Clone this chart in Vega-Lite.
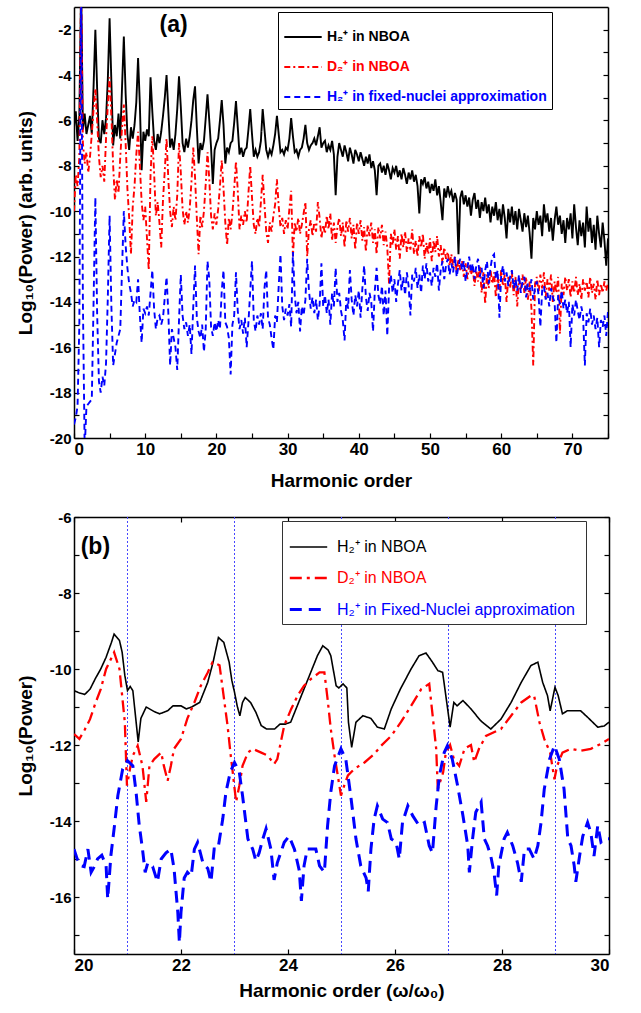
{
"$schema": "https://vega.github.io/schema/vega-lite/v6.json",
"padding": {"left": 16, "top": 7, "right": 5, "bottom": 5},
"spacing": 20,
"config": {
 "view": {"stroke": null},
 "axis": {"grid": false, "domainColor": "black", "domainWidth": 1.5, "tickColor": "black", "tickWidth": 1.2, "labelFont": "Liberation Sans", "labelFontWeight": "bold", "labelColor": "black", "titleFont": "Liberation Sans", "titleFontWeight": "bold", "titleColor": "black", "titleFontSize": 19},
 "legend": {"labelFont": "Liberation Sans"}
},
"datasets": {
 "a": [
{"h":0,"k":-6.3,"d":-10.0,"f":-19.4},{"h":0.25,"k":-5.6,"d":-8.4,"f":-19.1},{"h":0.5,"k":-6.9,"d":-8.9,"f":-18.6},{"h":0.75,"k":-5.8,"d":-7.6,"f":-15.0},
{"h":1,"k":0,"d":0,"f":0},{"h":1.25,"k":-6.4,"d":-7.0,"f":-14.0},{"h":1.5,"k":-5.7,"d":-7.9,"f":-20.5},{"h":1.75,"k":-6.6,"d":-7.4,"f":-18.6},
{"h":2,"k":-6.2,"d":-8.3,"f":-18.5},{"h":2.25,"k":-5.8,"d":-7.6,"f":-18.4},{"h":2.5,"k":-6.6,"d":-6.6,"f":-18.3},{"h":2.75,"k":-4.5,"d":-5.5,"f":-14.0},
{"h":3,"k":-2.0,"d":-4.6,"f":-9.4},{"h":3.25,"k":-4.6,"d":-6.0,"f":-14.5},{"h":3.5,"k":-6.8,"d":-7.6,"f":-17.5},{"h":3.75,"k":-7.0,"d":-8.5,"f":-18.0},
{"h":4,"k":-6.0,"d":-8.0,"f":-17.3},{"h":4.25,"k":-6.6,"d":-8.7,"f":-17.7},{"h":4.5,"k":-5.9,"d":-6.8,"f":-16.7},{"h":4.75,"k":-4.2,"d":-5.3,"f":-13.8},
{"h":5,"k":-1.5,"d":-4.1,"f":-10.2},{"h":5.25,"k":-4.3,"d":-5.8,"f":-14.2},{"h":5.5,"k":-7.1,"d":-8.0,"f":-16.8},{"h":5.75,"k":-6.2,"d":-9.5,"f":-16.3},
{"h":6,"k":-6.7,"d":-8.6,"f":-15.8},{"h":6.25,"k":-5.7,"d":-9.2,"f":-15.5},{"h":6.5,"k":-6.8,"d":-7.6,"f":-15.2},{"h":6.75,"k":-4.5,"d":-6.3,"f":-12.5},
{"h":7,"k":-2.3,"d":-5.3,"f":-10.0},{"h":7.25,"k":-4.8,"d":-7.0,"f":-11.5},{"h":7.5,"k":-6.6,"d":-9.0,"f":-12.5},{"h":7.75,"k":-7.3,"d":-10.3,"f":-13.2},
{"h":8,"k":-6.3,"d":-11.9,"f":-13.6},{"h":8.25,"k":-6.8,"d":-9.8,"f":-14.2},{"h":8.5,"k":-6.2,"d":-8.9,"f":-13.9},{"h":8.75,"k":-5.2,"d":-7.5,"f":-14.0},
{"h":9,"k":-3.25,"d":-6.5,"f":-13.0},{"h":9.25,"k":-5.3,"d":-8.0,"f":-14.6},{"h":9.5,"k":-8.2,"d":-9.6,"f":-15.8},{"h":9.75,"k":-6.5,"d":-10.4,"f":-14.3},
{"h":10,"k":-6.9,"d":-9.8,"f":-14.5},{"h":10.25,"k":-6.4,"d":-11.2,"f":-14.2},{"h":10.5,"k":-6.7,"d":-12.6,"f":-14.6},{"h":10.75,"k":-4.1,"d":-8.4,"f":-13.6},
{"h":11,"k":-5.6,"d":-6.7,"f":-12.6},{"h":11.25,"k":-6.9,"d":-8.3,"f":-14.3},{"h":11.5,"k":-7.3,"d":-10.2,"f":-15.2},{"h":11.75,"k":-6.6,"d":-9.6,"f":-14.7},
{"h":12,"k":-7.0,"d":-10.5,"f":-14.6},{"h":12.25,"k":-6.5,"d":-11.6,"f":-15.0},{"h":12.5,"k":-5.8,"d":-9.5,"f":-14.7},{"h":12.75,"k":-5.0,"d":-8.2,"f":-13.8},
{"h":13,"k":-4.0,"d":-6.8,"f":-12.9},{"h":13.25,"k":-5.6,"d":-8.6,"f":-14.5},{"h":13.5,"k":-7.2,"d":-10.0,"f":-16.8},{"h":13.75,"k":-6.8,"d":-10.7,"f":-15.2},
{"h":14,"k":-7.3,"d":-9.8,"f":-15.6},{"h":14.25,"k":-6.6,"d":-10.4,"f":-16.0},{"h":14.5,"k":-5.5,"d":-9.3,"f":-17.0},{"h":14.75,"k":-4.05,"d":-7.0,"f":-14.8},
{"h":15,"k":-5.4,"d":-8.3,"f":-12.8},{"h":15.25,"k":-7.0,"d":-9.9,"f":-14.6},{"h":15.5,"k":-7.4,"d":-10.6,"f":-15.2},{"h":15.75,"k":-6.8,"d":-10.0,"f":-14.9},
{"h":16,"k":-7.2,"d":-10.5,"f":-15.5},{"h":16.25,"k":-6.7,"d":-9.9,"f":-15.0},{"h":16.5,"k":-6.0,"d":-8.7,"f":-16.3},{"h":16.75,"k":-5.1,"d":-7.2,"f":-14.2},
{"h":17,"k":-4.5,"d":-8.5,"f":-12.4},{"h":17.25,"k":-6.3,"d":-10.3,"f":-14.7},{"h":17.5,"k":-7.9,"d":-11.9,"f":-15.3},{"h":17.75,"k":-7.0,"d":-10.2,"f":-15.6},
{"h":18,"k":-7.3,"d":-10.7,"f":-15.0},{"h":18.25,"k":-6.9,"d":-10.0,"f":-16.2},{"h":18.5,"k":-5.9,"d":-8.8,"f":-15.2},{"h":18.75,"k":-4.85,"d":-7.4,"f":-12.2},
{"h":19,"k":-6.0,"d":-8.6,"f":-13.0},{"h":19.25,"k":-7.2,"d":-10.2,"f":-15.1},{"h":19.5,"k":-8.8,"d":-10.8,"f":-15.5},{"h":19.75,"k":-7.3,"d":-10.1,"f":-14.9},
{"h":20,"k":-7.0,"d":-10.6,"f":-15.3},{"h":20.25,"k":-6.8,"d":-9.9,"f":-14.8},{"h":20.5,"k":-6.0,"d":-8.9,"f":-15.2},{"h":20.75,"k":-5.1,"d":-7.75,"f":-13.5},
{"h":21,"k":-6.2,"d":-9.0,"f":-12.6},{"h":21.25,"k":-7.9,"d":-10.5,"f":-14.9},{"h":21.5,"k":-7.2,"d":-11.5,"f":-15.1},{"h":21.75,"k":-7.4,"d":-10.3,"f":-15.6},
{"h":22,"k":-7.0,"d":-10.8,"f":-17.2},{"h":22.25,"k":-6.9,"d":-10.1,"f":-15.0},{"h":22.5,"k":-6.1,"d":-9.0,"f":-14.6},{"h":22.75,"k":-5.15,"d":-7.8,"f":-12.7},
{"h":23,"k":-6.3,"d":-9.1,"f":-14.4},{"h":23.25,"k":-7.5,"d":-10.8,"f":-15.2},{"h":23.5,"k":-7.2,"d":-10.2,"f":-14.8},{"h":23.75,"k":-7.6,"d":-10.6,"f":-15.4},
{"h":24,"k":-7.3,"d":-10.0,"f":-14.7},{"h":24.25,"k":-7.2,"d":-10.5,"f":-16.0},{"h":24.5,"k":-6.4,"d":-9.2,"f":-14.9},{"h":24.75,"k":-5.5,"d":-8.0,"f":-13.5},
{"h":25,"k":-6.6,"d":-9.4,"f":-12.2},{"h":25.25,"k":-7.6,"d":-10.6,"f":-14.8},{"h":25.5,"k":-7.3,"d":-11.0,"f":-15.3},{"h":25.75,"k":-7.6,"d":-10.3,"f":-14.6},
{"h":26,"k":-7.4,"d":-10.7,"f":-15.0},{"h":26.25,"k":-6.9,"d":-9.6,"f":-14.5},{"h":26.5,"k":-5.5,"d":-8.4,"f":-15.2},{"h":26.75,"k":-6.4,"d":-9.7,"f":-13.4},
{"h":27,"k":-7.3,"d":-10.9,"f":-12.6},{"h":27.25,"k":-7.6,"d":-11.4,"f":-14.7},{"h":27.5,"k":-7.3,"d":-10.5,"f":-15.0},{"h":27.75,"k":-7.5,"d":-10.9,"f":-15.6},
{"h":28,"k":-7.1,"d":-10.2,"f":-16.1},{"h":28.25,"k":-6.6,"d":-9.7,"f":-14.6},{"h":28.5,"k":-5.8,"d":-8.6,"f":-14.9},{"h":28.75,"k":-6.6,"d":-9.8,"f":-13.3},
{"h":29,"k":-7.4,"d":-10.7,"f":-11.9},{"h":29.25,"k":-7.3,"d":-10.3,"f":-14.2},{"h":29.5,"k":-7.5,"d":-11.0,"f":-14.8},{"h":29.75,"k":-7.2,"d":-10.4,"f":-14.3},
{"h":30,"k":-7.3,"d":-10.8,"f":-14.6},{"h":30.25,"k":-6.8,"d":-9.9,"f":-14.1},{"h":30.5,"k":-5.9,"d":-9.1,"f":-15.1},{"h":30.75,"k":-6.7,"d":-12.0,"f":-11.8},
{"h":31,"k":-7.4,"d":-10.5,"f":-13.7},{"h":31.25,"k":-7.3,"d":-10.9,"f":-14.5},{"h":31.5,"k":-7.6,"d":-10.3,"f":-14.0},{"h":31.75,"k":-7.3,"d":-11.0,"f":-15.3},
{"h":32,"k":-7.2,"d":-10.6,"f":-14.2},{"h":32.25,"k":-6.8,"d":-10.1,"f":-14.6},{"h":32.5,"k":-6.2,"d":-9.6,"f":-13.9},{"h":32.75,"k":-7.0,"d":-12.0,"f":-12.1},
{"h":33,"k":-7.3,"d":-10.8,"f":-13.5},{"h":33.25,"k":-7.1,"d":-10.4,"f":-14.3},{"h":33.5,"k":-7.0,"d":-11.1,"f":-13.8},{"h":33.75,"k":-6.8,"d":-10.5,"f":-14.5},
{"h":34,"k":-7.1,"d":-10.9,"f":-13.9},{"h":34.25,"k":-6.7,"d":-9.6,"f":-14.8},{"h":34.5,"k":-6.3,"d":-10.3,"f":-14.1},{"h":34.75,"k":-7.2,"d":-11.2,"f":-12.3},
{"h":35,"k":-7.0,"d":-10.6,"f":-14.2},{"h":35.25,"k":-6.9,"d":-11.0,"f":-13.7},{"h":35.5,"k":-7.4,"d":-10.2,"f":-14.5},{"h":35.75,"k":-7.1,"d":-10.8,"f":-13.9},
{"h":36,"k":-7.3,"d":-10.1,"f":-15.0},{"h":36.25,"k":-6.9,"d":-11.3,"f":-13.6},{"h":36.5,"k":-7.5,"d":-10.5,"f":-14.2},{"h":36.75,"k":-9.3,"d":-11.4,"f":-12.5},
{"h":37,"k":-7.6,"d":-10.7,"f":-14.0},{"h":37.25,"k":-7.0,"d":-10.3,"f":-13.6},{"h":37.5,"k":-7.3,"d":-11.1,"f":-14.4},{"h":37.75,"k":-7.6,"d":-10.5,"f":-14.8},
{"h":38,"k":-7.1,"d":-11.6,"f":-15.7},{"h":38.25,"k":-7.4,"d":-10.4,"f":-13.8},{"h":38.5,"k":-7.8,"d":-10.9,"f":-14.3},{"h":38.75,"k":-7.2,"d":-10.3,"f":-12.6},
{"h":39,"k":-7.5,"d":-11.2,"f":-13.9},{"h":39.25,"k":-7.9,"d":-10.6,"f":-14.6},{"h":39.5,"k":-7.3,"d":-11.7,"f":-13.7},{"h":39.75,"k":-7.5,"d":-10.5,"f":-14.2},
{"h":40,"k":-7.8,"d":-11.0,"f":-13.5},{"h":40.25,"k":-7.4,"d":-10.4,"f":-14.7},{"h":40.5,"k":-7.7,"d":-11.3,"f":-13.4},{"h":40.75,"k":-8.0,"d":-10.7,"f":-12.4},
{"h":41,"k":-7.6,"d":-11.8,"f":-13.8},{"h":41.25,"k":-7.9,"d":-10.6,"f":-14.4},{"h":41.5,"k":-7.5,"d":-11.1,"f":-13.6},{"h":41.75,"k":-8.1,"d":-10.5,"f":-14.0},
{"h":42,"k":-7.8,"d":-11.4,"f":-15.3},{"h":42.25,"k":-8.2,"d":-10.8,"f":-13.5},{"h":42.5,"k":-9.3,"d":-11.9,"f":-12.5},{"h":42.75,"k":-8.0,"d":-10.7,"f":-13.7},
{"h":43,"k":-7.9,"d":-11.2,"f":-14.1},{"h":43.25,"k":-8.3,"d":-10.6,"f":-13.3},{"h":43.5,"k":-8.0,"d":-11.5,"f":-14.6},{"h":43.75,"k":-8.4,"d":-10.9,"f":-13.5},
{"h":44,"k":-7.9,"d":-11.6,"f":-15.5},{"h":44.25,"k":-8.2,"d":-13.2,"f":-13.4},{"h":44.5,"k":-8.6,"d":-11.0,"f":-12.8},{"h":44.75,"k":-8.1,"d":-11.5,"f":-13.6},
{"h":45,"k":-8.3,"d":-10.8,"f":-13.0},{"h":45.25,"k":-8.0,"d":-11.7,"f":-14.0},{"h":45.5,"k":-8.5,"d":-11.1,"f":-13.2},{"h":45.75,"k":-8.2,"d":-12.1,"f":-12.6},
{"h":46,"k":-8.6,"d":-11.0,"f":-13.5},{"h":46.25,"k":-8.1,"d":-11.6,"f":-12.9},{"h":46.5,"k":-8.4,"d":-10.9,"f":-13.7},{"h":46.75,"k":-8.8,"d":-11.8,"f":-12.7},
{"h":47,"k":-8.3,"d":-11.2,"f":-13.3},{"h":47.25,"k":-8.6,"d":-11.7,"f":-14.6},{"h":47.5,"k":-8.2,"d":-10.8,"f":-12.8},{"h":47.75,"k":-8.7,"d":-11.9,"f":-13.1},
{"h":48,"k":-8.4,"d":-11.3,"f":-12.5},{"h":48.25,"k":-8.9,"d":-12.0,"f":-13.4},{"h":48.5,"k":-10.1,"d":-11.1,"f":-12.8},{"h":48.75,"k":-8.6,"d":-11.6,"f":-13.6},
{"h":49,"k":-8.8,"d":-11.0,"f":-12.4},{"h":49.25,"k":-8.5,"d":-12.1,"f":-13.0},{"h":49.5,"k":-9.0,"d":-11.4,"f":-12.3},{"h":49.75,"k":-8.7,"d":-11.9,"f":-13.1},
{"h":50,"k":-9.2,"d":-11.2,"f":-12.7},{"h":50.25,"k":-8.8,"d":-12.2,"f":-13.3},{"h":50.5,"k":-9.1,"d":-11.3,"f":-12.5},{"h":50.75,"k":-8.6,"d":-11.8,"f":-12.9},
{"h":51,"k":-9.3,"d":-11.1,"f":-12.3},{"h":51.25,"k":-8.9,"d":-12.0,"f":-13.5},{"h":51.5,"k":-9.6,"d":-11.5,"f":-12.6},{"h":51.75,"k":-10.4,"d":-12.3,"f":-12.2},
{"h":52,"k":-9.0,"d":-11.6,"f":-13.0},{"h":52.25,"k":-9.4,"d":-12.1,"f":-12.4},{"h":52.5,"k":-8.9,"d":-11.8,"f":-12.1},{"h":52.75,"k":-9.3,"d":-12.4,"f":-12.8},
{"h":53,"k":-9.1,"d":-11.9,"f":-12.3},{"h":53.25,"k":-9.6,"d":-12.5,"f":-12.7},{"h":53.5,"k":-9.2,"d":-12.0,"f":-12.0},{"h":53.75,"k":-9.5,"d":-12.7,"f":-12.9},
{"h":54,"k":-11.9,"d":-12.1,"f":-12.4},{"h":54.25,"k":-9.4,"d":-12.6,"f":-12.1},{"h":54.5,"k":-9.1,"d":-12.2,"f":-12.6},{"h":54.75,"k":-9.7,"d":-12.9,"f":-12.2},
{"h":55,"k":-9.3,"d":-12.3,"f":-13.1},{"h":55.25,"k":-9.8,"d":-13.0,"f":-12.5},{"h":55.5,"k":-9.4,"d":-12.4,"f":-12.0},{"h":55.75,"k":-10.2,"d":-12.8,"f":-12.7},
{"h":56,"k":-9.5,"d":-12.5,"f":-12.3},{"h":56.25,"k":-9.2,"d":-13.3,"f":-13.0},{"h":56.5,"k":-9.9,"d":-12.6,"f":-12.4},{"h":56.75,"k":-9.5,"d":-13.1,"f":-12.1},
{"h":57,"k":-10.3,"d":-12.4,"f":-12.9},{"h":57.25,"k":-9.6,"d":-13.6,"f":-12.5},{"h":57.5,"k":-10.0,"d":-12.7,"f":-13.4},{"h":57.75,"k":-9.4,"d":-14.1,"f":-12.6},
{"h":58,"k":-10.1,"d":-12.8,"f":-12.2},{"h":58.25,"k":-9.7,"d":-13.4,"f":-13.2},{"h":58.5,"k":-10.5,"d":-12.6,"f":-12.5},{"h":58.75,"k":-9.8,"d":-13.2,"f":-12.0},
{"h":59,"k":-10.2,"d":-12.7,"f":-11.9},{"h":59.25,"k":-9.6,"d":-13.8,"f":-13.0},{"h":59.5,"k":-10.4,"d":-12.9,"f":-12.6},{"h":59.75,"k":-9.9,"d":-13.5,"f":-14.7},
{"h":60,"k":-10.6,"d":-12.6,"f":-12.8},{"h":60.25,"k":-9.7,"d":-13.3,"f":-12.4},{"h":60.5,"k":-10.3,"d":-12.8,"f":-13.1},{"h":60.75,"k":-11.2,"d":-14.0,"f":-12.7},
{"h":61,"k":-9.9,"d":-12.9,"f":-13.3},{"h":61.25,"k":-10.5,"d":-13.4,"f":-12.9},{"h":61.5,"k":-9.8,"d":-12.7,"f":-12.6},{"h":61.75,"k":-10.6,"d":-13.7,"f":-13.4},
{"h":62,"k":-10.0,"d":-12.9,"f":-13.0},{"h":62.25,"k":-10.8,"d":-14.2,"f":-13.5},{"h":62.5,"k":-9.9,"d":-13.0,"f":-12.8},{"h":62.75,"k":-10.4,"d":-13.5,"f":-13.6},
{"h":63,"k":-10.9,"d":-12.8,"f":-13.1},{"h":63.25,"k":-10.1,"d":-13.6,"f":-12.9},{"h":63.5,"k":-10.7,"d":-12.9,"f":-13.8},{"h":63.75,"k":-10.2,"d":-13.9,"f":-13.2},
{"h":64,"k":-11.0,"d":-13.1,"f":-13.5},{"h":64.25,"k":-12.1,"d":-14.3,"f":-13.0},{"h":64.5,"k":-10.3,"d":-16.8,"f":-13.9},{"h":64.75,"k":-10.8,"d":-13.2,"f":-13.4},
{"h":65,"k":-10.0,"d":-12.9,"f":-13.1},{"h":65.25,"k":-10.6,"d":-13.6,"f":-13.7},{"h":65.5,"k":-10.2,"d":-12.8,"f":-15.1},{"h":65.75,"k":-11.1,"d":-13.4,"f":-13.5},
{"h":66,"k":-9.7,"d":-12.7,"f":-13.3},{"h":66.25,"k":-10.5,"d":-13.8,"f":-13.9},{"h":66.5,"k":-10.1,"d":-13.0,"f":-13.6},{"h":66.75,"k":-10.9,"d":-13.5,"f":-14.2},
{"h":67,"k":-10.3,"d":-12.8,"f":-13.4},{"h":67.25,"k":-11.3,"d":-14.0,"f":-13.8},{"h":67.5,"k":-10.4,"d":-13.1,"f":-14.0},{"h":67.75,"k":-9.8,"d":-13.6,"f":-15.8},
{"h":68,"k":-10.6,"d":-12.9,"f":-13.7},{"h":68.25,"k":-10.2,"d":-15.4,"f":-14.1},{"h":68.5,"k":-11.0,"d":-13.2,"f":-13.5},{"h":68.75,"k":-10.4,"d":-13.7,"f":-14.3},
{"h":69,"k":-11.4,"d":-12.9,"f":-13.9},{"h":69.25,"k":-10.3,"d":-13.5,"f":-14.5},{"h":69.5,"k":-10.8,"d":-13.0,"f":-14.0},{"h":69.75,"k":-10.1,"d":-13.8,"f":-16.0},
{"h":70,"k":-11.2,"d":-13.1,"f":-14.1},{"h":70.25,"k":-9.7,"d":-13.6,"f":-14.6},{"h":70.5,"k":-10.7,"d":-12.9,"f":-13.9},{"h":70.75,"k":-11.5,"d":-13.7,"f":-14.4},
{"h":71,"k":-10.4,"d":-13.2,"f":-14.8},{"h":71.25,"k":-11.1,"d":-13.9,"f":-14.2},{"h":71.5,"k":-10.5,"d":-13.0,"f":-14.6},{"h":71.75,"k":-11.6,"d":-13.5,"f":-16.8},
{"h":72,"k":-9.8,"d":-13.1,"f":-14.5},{"h":72.25,"k":-10.9,"d":-13.8,"f":-14.9},{"h":72.5,"k":-10.3,"d":-12.9,"f":-14.3},{"h":72.75,"k":-11.4,"d":-13.6,"f":-15.0},
{"h":73,"k":-10.6,"d":-13.2,"f":-14.6},{"h":73.25,"k":-11.7,"d":-13.9,"f":-15.2},{"h":73.5,"k":-10.2,"d":-13.0,"f":-14.7},{"h":73.75,"k":-11.0,"d":-13.7,"f":-16.0},
{"h":74,"k":-11.6,"d":-13.2,"f":-14.8},{"h":74.25,"k":-10.5,"d":-13.6,"f":-15.1},{"h":74.5,"k":-11.3,"d":-13.1,"f":-14.6},{"h":74.75,"k":-12.4,"d":-13.5,"f":-15.5},
{"h":75,"k":-11.2,"d":-13.2,"f":-14.4}
 ],
 "b": [
{"s":"k","h":20.0,"v":-10.57},{"s":"k","h":20.1,"v":-10.63},{"s":"k","h":20.2,"v":-10.67},{"s":"k","h":20.3,"v":-10.53},{"s":"k","h":20.4,"v":-10.25},{"s":"k","h":20.5,"v":-10.0},{"s":"k","h":20.6,"v":-9.69},{"s":"k","h":20.7,"v":-9.3},{"s":"k","h":20.75,"v":-9.08},{"s":"k","h":20.85,"v":-9.25},{"s":"k","h":20.9,"v":-9.56},{"s":"k","h":20.95,"v":-10.17},{"s":"k","h":21.0,"v":-10.57},{"s":"k","h":21.05,"v":-10.46},{"s":"k","h":21.1,"v":-10.57},{"s":"k","h":21.2,"v":-11.92},{"s":"k","h":21.25,"v":-11.3},{"s":"k","h":21.35,"v":-11.0},{"s":"k","h":21.5,"v":-11.12},{"s":"k","h":21.6,"v":-11.18},{"s":"k","h":21.75,"v":-11.1},{"s":"k","h":21.85,"v":-10.97},{"s":"k","h":22.0,"v":-10.97},{"s":"k","h":22.1,"v":-11.05},{"s":"k","h":22.2,"v":-11.0},{"s":"k","h":22.35,"v":-10.88},{"s":"k","h":22.5,"v":-10.35},{"s":"k","h":22.6,"v":-9.82},{"s":"k","h":22.7,"v":-9.17},{"s":"k","h":22.8,"v":-9.3},{"s":"k","h":22.9,"v":-9.82},{"s":"k","h":22.95,"v":-10.3},{"s":"k","h":23.0,"v":-10.61},{"s":"k","h":23.05,"v":-10.97},{"s":"k","h":23.1,"v":-11.23},{"s":"k","h":23.15,"v":-10.88},{"s":"k","h":23.2,"v":-10.75},{"s":"k","h":23.3,"v":-10.88},{"s":"k","h":23.4,"v":-11.14},{"s":"k","h":23.5,"v":-11.49},{"s":"k","h":23.6,"v":-11.58},{"s":"k","h":23.75,"v":-11.58},{"s":"k","h":23.85,"v":-11.45},{"s":"k","h":23.95,"v":-11.45},{"s":"k","h":24.05,"v":-11.4},{"s":"k","h":24.15,"v":-11.05},{"s":"k","h":24.25,"v":-10.7},{"s":"k","h":24.35,"v":-10.35},{"s":"k","h":24.45,"v":-10.0},{"s":"k","h":24.55,"v":-9.65},{"s":"k","h":24.65,"v":-9.39},{"s":"k","h":24.75,"v":-9.5},{"s":"k","h":24.8,"v":-9.65},{"s":"k","h":24.9,"v":-10.44},{"s":"k","h":24.95,"v":-10.5},{"s":"k","h":25.03,"v":-10.39},{"s":"k","h":25.1,"v":-10.5},{"s":"k","h":25.13,"v":-11.4},{"s":"k","h":25.19,"v":-12.06},{"s":"k","h":25.27,"v":-11.4},{"s":"k","h":25.4,"v":-11.23},{"s":"k","h":25.55,"v":-11.3},{"s":"k","h":25.67,"v":-11.53},{"s":"k","h":25.8,"v":-11.58},{"s":"k","h":25.93,"v":-11.05},{"s":"k","h":26.1,"v":-10.53},{"s":"k","h":26.3,"v":-10.0},{"s":"k","h":26.45,"v":-9.65},{"s":"k","h":26.58,"v":-9.58},{"s":"k","h":26.7,"v":-9.82},{"s":"k","h":26.8,"v":-10.04},{"s":"k","h":26.89,"v":-10.09},{"s":"k","h":26.95,"v":-10.7},{"s":"k","h":27.03,"v":-11.53},{"s":"k","h":27.1,"v":-10.88},{"s":"k","h":27.16,"v":-10.97},{"s":"k","h":27.27,"v":-10.83},{"s":"k","h":27.42,"v":-11.05},{"s":"k","h":27.6,"v":-11.36},{"s":"k","h":27.79,"v":-11.58},{"s":"k","h":27.98,"v":-11.32},{"s":"k","h":28.17,"v":-10.88},{"s":"k","h":28.36,"v":-10.35},{"s":"k","h":28.54,"v":-9.91},{"s":"k","h":28.67,"v":-9.82},{"s":"k","h":28.76,"v":-10.35},{"s":"k","h":28.85,"v":-10.7},{"s":"k","h":28.9,"v":-11.1},{"s":"k","h":28.99,"v":-10.48},{"s":"k","h":29.05,"v":-10.7},{"s":"k","h":29.13,"v":-11.18},{"s":"k","h":29.22,"v":-11.1},{"s":"k","h":29.47,"v":-11.1},{"s":"k","h":29.6,"v":-11.27},{"s":"k","h":29.79,"v":-11.53},{"s":"k","h":29.91,"v":-11.5},{"s":"k","h":30.0,"v":-11.4},
{"s":"d","h":20.0,"v":-11.71},{"s":"d","h":20.1,"v":-11.84},{"s":"d","h":20.2,"v":-11.6},{"s":"d","h":20.3,"v":-11.32},{"s":"d","h":20.4,"v":-10.9},{"s":"d","h":20.5,"v":-10.53},{"s":"d","h":20.6,"v":-10.0},{"s":"d","h":20.75,"v":-9.56},{"s":"d","h":20.85,"v":-10.0},{"s":"d","h":20.9,"v":-10.7},{"s":"d","h":20.95,"v":-11.4},{"s":"d","h":20.99,"v":-13.07},{"s":"d","h":21.05,"v":-12.6},{"s":"d","h":21.1,"v":-12.28},{"s":"d","h":21.19,"v":-12.02},{"s":"d","h":21.28,"v":-12.55},{"s":"d","h":21.35,"v":-13.5},{"s":"d","h":21.41,"v":-12.55},{"s":"d","h":21.5,"v":-12.37},{"s":"d","h":21.63,"v":-12.2},{"s":"d","h":21.68,"v":-12.55},{"s":"d","h":21.75,"v":-12.94},{"s":"d","h":21.81,"v":-12.55},{"s":"d","h":21.87,"v":-12.1},{"s":"d","h":22.0,"v":-11.84},{"s":"d","h":22.12,"v":-11.3},{"s":"d","h":22.25,"v":-10.88},{"s":"d","h":22.37,"v":-10.44},{"s":"d","h":22.5,"v":-10.09},{"s":"d","h":22.59,"v":-9.82},{"s":"d","h":22.72,"v":-9.9},{"s":"d","h":22.78,"v":-10.53},{"s":"d","h":22.87,"v":-11.49},{"s":"d","h":22.93,"v":-12.28},{"s":"d","h":22.96,"v":-12.63},{"s":"d","h":23.03,"v":-13.5},{"s":"d","h":23.09,"v":-13.07},{"s":"d","h":23.15,"v":-12.55},{"s":"d","h":23.25,"v":-12.2},{"s":"d","h":23.34,"v":-12.1},{"s":"d","h":23.5,"v":-12.2},{"s":"d","h":23.62,"v":-12.28},{"s":"d","h":23.74,"v":-12.5},{"s":"d","h":23.8,"v":-12.37},{"s":"d","h":23.93,"v":-11.49},{"s":"d","h":24.06,"v":-11.05},{"s":"d","h":24.18,"v":-10.7},{"s":"d","h":24.3,"v":-10.44},{"s":"d","h":24.43,"v":-10.26},{"s":"d","h":24.59,"v":-10.09},{"s":"d","h":24.68,"v":-10.09},{"s":"d","h":24.74,"v":-10.79},{"s":"d","h":24.8,"v":-11.58},{"s":"d","h":24.87,"v":-12.28},{"s":"d","h":24.93,"v":-12.8},{"s":"d","h":24.99,"v":-13.33},{"s":"d","h":25.05,"v":-13.07},{"s":"d","h":25.12,"v":-12.8},{"s":"d","h":25.24,"v":-12.63},{"s":"d","h":25.43,"v":-12.46},{"s":"d","h":25.61,"v":-12.24},{"s":"d","h":25.74,"v":-12.02},{"s":"d","h":25.93,"v":-11.76},{"s":"d","h":26.11,"v":-11.4},{"s":"d","h":26.3,"v":-10.97},{"s":"d","h":26.49,"v":-10.53},{"s":"d","h":26.64,"v":-10.39},{"s":"d","h":26.69,"v":-11.05},{"s":"d","h":26.77,"v":-12.1},{"s":"d","h":26.8,"v":-13.16},{"s":"d","h":26.9,"v":-12.72},{"s":"d","h":26.95,"v":-12.2},{"s":"d","h":27.03,"v":-12.0},{"s":"d","h":27.1,"v":-12.37},{"s":"d","h":27.2,"v":-12.55},{"s":"d","h":27.3,"v":-12.1},{"s":"d","h":27.42,"v":-12.0},{"s":"d","h":27.48,"v":-12.45},{"s":"d","h":27.57,"v":-12.1},{"s":"d","h":27.7,"v":-11.76},{"s":"d","h":27.98,"v":-11.58},{"s":"d","h":28.17,"v":-11.23},{"s":"d","h":28.36,"v":-10.88},{"s":"d","h":28.54,"v":-10.7},{"s":"d","h":28.6,"v":-10.7},{"s":"d","h":28.7,"v":-11.4},{"s":"d","h":28.79,"v":-11.84},{"s":"d","h":28.9,"v":-12.2},{"s":"d","h":28.98,"v":-12.9},{"s":"d","h":29.03,"v":-12.55},{"s":"d","h":29.13,"v":-12.2},{"s":"d","h":29.29,"v":-12.1},{"s":"d","h":29.47,"v":-12.15},{"s":"d","h":29.66,"v":-12.1},{"s":"d","h":29.85,"v":-11.97},{"s":"d","h":30.0,"v":-11.84},
{"s":"f","h":20.0,"v":-14.74},{"s":"f","h":20.06,"v":-15.0},{"s":"f","h":20.13,"v":-15.18},{"s":"f","h":20.19,"v":-15.2},{"s":"f","h":20.26,"v":-14.74},{"s":"f","h":20.32,"v":-15.35},{"s":"f","h":20.38,"v":-15.2},{"s":"f","h":20.44,"v":-15.0},{"s":"f","h":20.52,"v":-14.9},{"s":"f","h":20.6,"v":-15.18},{"s":"f","h":20.63,"v":-16.05},{"s":"f","h":20.69,"v":-14.9},{"s":"f","h":20.75,"v":-14.2},{"s":"f","h":20.82,"v":-13.33},{"s":"f","h":20.91,"v":-12.63},{"s":"f","h":21.0,"v":-12.41},{"s":"f","h":21.1,"v":-12.55},{"s":"f","h":21.16,"v":-13.24},{"s":"f","h":21.22,"v":-14.12},{"s":"f","h":21.28,"v":-14.74},{"s":"f","h":21.33,"v":-15.35},{"s":"f","h":21.38,"v":-15.1},{"s":"f","h":21.47,"v":-15.2},{"s":"f","h":21.56,"v":-15.6},{"s":"f","h":21.63,"v":-15.0},{"s":"f","h":21.72,"v":-14.84},{"s":"f","h":21.81,"v":-14.74},{"s":"f","h":21.87,"v":-15.25},{"s":"f","h":21.94,"v":-16.4},{"s":"f","h":21.97,"v":-17.2},{"s":"f","h":22.0,"v":-16.4},{"s":"f","h":22.06,"v":-15.5},{"s":"f","h":22.12,"v":-15.35},{"s":"f","h":22.19,"v":-15.45},{"s":"f","h":22.25,"v":-14.74},{"s":"f","h":22.31,"v":-14.56},{"s":"f","h":22.41,"v":-15.1},{"s":"f","h":22.5,"v":-15.25},{"s":"f","h":22.56,"v":-15.6},{"s":"f","h":22.62,"v":-14.74},{"s":"f","h":22.69,"v":-14.74},{"s":"f","h":22.78,"v":-13.95},{"s":"f","h":22.84,"v":-13.24},{"s":"f","h":22.92,"v":-12.72},{"s":"f","h":23.0,"v":-12.46},{"s":"f","h":23.09,"v":-12.72},{"s":"f","h":23.15,"v":-13.33},{"s":"f","h":23.25,"v":-14.47},{"s":"f","h":23.34,"v":-14.74},{"s":"f","h":23.4,"v":-15.05},{"s":"f","h":23.46,"v":-14.84},{"s":"f","h":23.53,"v":-14.47},{"s":"f","h":23.59,"v":-14.2},{"s":"f","h":23.68,"v":-14.74},{"s":"f","h":23.74,"v":-15.55},{"s":"f","h":23.8,"v":-15.1},{"s":"f","h":23.93,"v":-14.56},{"s":"f","h":24.02,"v":-14.4},{"s":"f","h":24.12,"v":-14.74},{"s":"f","h":24.21,"v":-15.3},{"s":"f","h":24.25,"v":-16.1},{"s":"f","h":24.3,"v":-15.18},{"s":"f","h":24.36,"v":-14.74},{"s":"f","h":24.45,"v":-14.74},{"s":"f","h":24.52,"v":-14.74},{"s":"f","h":24.59,"v":-15.18},{"s":"f","h":24.68,"v":-15.35},{"s":"f","h":24.74,"v":-14.12},{"s":"f","h":24.8,"v":-13.24},{"s":"f","h":24.87,"v":-12.55},{"s":"f","h":24.99,"v":-12.1},{"s":"f","h":25.08,"v":-12.37},{"s":"f","h":25.18,"v":-13.42},{"s":"f","h":25.27,"v":-14.47},{"s":"f","h":25.36,"v":-15.18},{"s":"f","h":25.46,"v":-15.5},{"s":"f","h":25.5,"v":-15.85},{"s":"f","h":25.55,"v":-14.74},{"s":"f","h":25.61,"v":-13.95},{"s":"f","h":25.67,"v":-13.6},{"s":"f","h":25.77,"v":-13.95},{"s":"f","h":25.86,"v":-14.04},{"s":"f","h":25.93,"v":-14.47},{"s":"f","h":26.02,"v":-14.56},{"s":"f","h":26.08,"v":-15.0},{"s":"f","h":26.14,"v":-14.04},{"s":"f","h":26.24,"v":-13.6},{"s":"f","h":26.33,"v":-13.86},{"s":"f","h":26.45,"v":-14.12},{"s":"f","h":26.55,"v":-14.04},{"s":"f","h":26.64,"v":-14.65},{"s":"f","h":26.7,"v":-14.84},{"s":"f","h":26.77,"v":-13.6},{"s":"f","h":26.83,"v":-12.81},{"s":"f","h":26.92,"v":-12.2},{"s":"f","h":26.98,"v":-12.02},{"s":"f","h":27.07,"v":-12.37},{"s":"f","h":27.17,"v":-13.07},{"s":"f","h":27.27,"v":-13.86},{"s":"f","h":27.36,"v":-14.65},{"s":"f","h":27.39,"v":-15.35},{"s":"f","h":27.45,"v":-14.47},{"s":"f","h":27.51,"v":-13.77},{"s":"f","h":27.61,"v":-13.5},{"s":"f","h":27.67,"v":-14.47},{"s":"f","h":27.73,"v":-14.65},{"s":"f","h":27.79,"v":-14.92},{"s":"f","h":27.85,"v":-15.35},{"s":"f","h":27.9,"v":-15.96},{"s":"f","h":27.94,"v":-15.18},{"s":"f","h":28.04,"v":-14.47},{"s":"f","h":28.1,"v":-14.3},{"s":"f","h":28.2,"v":-14.65},{"s":"f","h":28.29,"v":-15.1},{"s":"f","h":28.36,"v":-15.6},{"s":"f","h":28.42,"v":-14.74},{"s":"f","h":28.51,"v":-14.74},{"s":"f","h":28.6,"v":-15.0},{"s":"f","h":28.67,"v":-14.65},{"s":"f","h":28.73,"v":-14.04},{"s":"f","h":28.79,"v":-13.16},{"s":"f","h":28.89,"v":-12.37},{"s":"f","h":28.98,"v":-12.02},{"s":"f","h":29.07,"v":-12.37},{"s":"f","h":29.16,"v":-13.16},{"s":"f","h":29.23,"v":-14.47},{"s":"f","h":29.29,"v":-14.65},{"s":"f","h":29.35,"v":-15.18},{"s":"f","h":29.38,"v":-15.6},{"s":"f","h":29.45,"v":-14.92},{"s":"f","h":29.51,"v":-14.4},{"s":"f","h":29.6,"v":-14.04},{"s":"f","h":29.66,"v":-14.3},{"s":"f","h":29.72,"v":-14.92},{"s":"f","h":29.79,"v":-14.12},{"s":"f","h":29.85,"v":-14.56},{"s":"f","h":29.94,"v":-14.47},{"s":"f","h":30.0,"v":-14.47}
 ],
 "vl": [{"h":21},{"h":23},{"h":25},{"h":27},{"h":29}]
},
"vconcat": [
 {
  "width": 534, "height": 431,
  "data": {"name": "a"},
  "layer": [
   {
    "transform": [{"fold": ["k","d","f"], "as": ["s","v"]}],
    "mark": {"type": "line", "clip": true, "strokeWidth": 1.9},
    "encoding": {
     "x": {"field": "h", "type": "quantitative", "scale": {"domain": [0,75], "nice": false, "zero": false},
      "axis": {"title": "Harmonic order", "values": [0,5,10,15,20,25,30,35,40,45,50,55,60,65,70,75], "labelExpr": "datum.value % 10 == 0 ? datum.label : ''", "tickSize": -5, "labelFontSize": 17, "labelPadding": 8, "titlePadding": 14}},
     "y": {"field": "v", "type": "quantitative", "scale": {"domain": [-20,-1], "nice": false, "zero": false},
      "axis": {"title": "Log₁₀(Power) (arb. units)", "values": [-20,-19,-18,-17,-16,-15,-14,-13,-12,-11,-10,-9,-8,-7,-6,-5,-4,-3,-2], "labelExpr": "datum.value % 2 == 0 ? '-' + abs(datum.value) : ''", "tickSize": -5, "labelFontSize": 15, "labelPadding": 8, "titlePadding": 14}},
     "color": {"field": "s", "type": "nominal", "scale": {"domain": ["k","d","f"], "range": ["black","#ff0000","#0000ff"]},
      "legend": {"title": null, "orient": "none", "legendX": 204, "legendY": 5, "strokeColor": "black", "fillColor": "white", "padding": 5, "symbolType": "stroke", "symbolSize": 1400, "symbolStrokeWidth": 2, "labelFontSize": 14, "labelFontWeight": "bold", "labelLimit": 400, "rowPadding": 3, "labelOffset": 4, "labelExpr": "datum.value == 'k' ? 'H₂⁺ in NBOA' : (datum.value == 'd' ? 'D₂⁺ in NBOA' : 'H₂⁺ in fixed-nuclei approximation')", "encode": {"labels": {"update": {"fill": {"signal": "datum.value == 'k' ? 'black' : (datum.value == 'd' ? '#ff0000' : '#0000ff')"}}}}}},
     "strokeDash": {"field": "s", "type": "nominal", "scale": {"domain": ["k","d","f"], "range": [[1,0],[6,3,2,3],[6,4]]},
      "legend": {"title": null, "orient": "none", "legendX": 204, "legendY": 5, "strokeColor": "black", "fillColor": "white", "padding": 5, "symbolType": "stroke", "symbolSize": 1400, "symbolStrokeWidth": 2, "labelFontSize": 14, "labelFontWeight": "bold", "labelLimit": 400, "rowPadding": 3, "labelOffset": 4, "labelExpr": "datum.value == 'k' ? 'H₂⁺ in NBOA' : (datum.value == 'd' ? 'D₂⁺ in NBOA' : 'H₂⁺ in fixed-nuclei approximation')", "encode": {"labels": {"update": {"fill": {"signal": "datum.value == 'k' ? 'black' : (datum.value == 'd' ? '#ff0000' : '#0000ff')"}}}}}}
    }
   },
   {
    "data": {"values": [{"h": 14, "v": -1.8, "t": "(a)"}]},
    "mark": {"type": "text", "fontSize": 23, "fontWeight": "bold", "font": "Liberation Sans"},
    "encoding": {
     "x": {"field": "h", "type": "quantitative", "scale": {"domain": [0,75], "nice": false, "zero": false}, "axis": {"orient": "top", "labels": false, "ticks": false, "title": null}},
     "y": {"field": "v", "type": "quantitative", "scale": {"domain": [-20,-1], "nice": false, "zero": false}, "axis": {"orient": "right", "labels": false, "title": null, "values": [-20,-19,-18,-17,-16,-15,-14,-13,-12,-11,-10,-9,-8,-7,-6,-5,-4,-3,-2], "tickSize": -5}},
     "text": {"field": "t"}
    }
   }
  ],
  "resolve": {"axis": {"x": "independent", "y": "independent"}}
 },
 {
  "width": 535, "height": 437,
  "data": {"name": "b"},
  "layer": [
   {
    "data": {"name": "vl"},
    "mark": {"type": "rule", "color": "#4646ff", "strokeDash": [2,2], "strokeWidth": 1},
    "encoding": {"x": {"field": "h", "type": "quantitative", "scale": {"domain": [20,30], "nice": false, "zero": false}, "axis": null}}
   },
   {
    "mark": {"type": "line", "clip": true},
    "encoding": {
     "x": {"field": "h", "type": "quantitative", "scale": {"domain": [20,30], "nice": false, "zero": false},
      "axis": {"title": "Harmonic order (ω/ω₀)", "values": [20,22,24,26,28,30], "tickSize": -5, "labelFontSize": 17, "labelPadding": 8, "titlePadding": 8}},
     "y": {"field": "v", "type": "quantitative", "scale": {"domain": [-17.5,-6], "nice": false, "zero": false},
      "axis": {"title": "Log₁₀(Power)", "values": [-17,-16,-15,-14,-13,-12,-11,-10,-9,-8,-7,-6], "labelExpr": "datum.value % 2 == 0 ? '-' + abs(datum.value) : ''", "tickSize": -5, "labelFontSize": 15, "labelPadding": 8, "titlePadding": 14}},
     "color": {"field": "s", "type": "nominal", "scale": {"domain": ["k","d","f"], "range": ["black","#ff0000","#0000ff"]},
      "legend": {"title": null, "orient": "none", "legendX": 208, "legendY": 4, "strokeColor": "#333333", "fillColor": "white", "padding": 6, "symbolType": "stroke", "symbolSize": 1400, "symbolStrokeWidth": 3, "labelFontSize": 16, "labelFontWeight": "normal", "labelLimit": 400, "rowPadding": 3, "labelOffset": 8, "labelExpr": "datum.value == 'k' ? 'H₂⁺ in NBOA' : (datum.value == 'd' ? 'D₂⁺ in NBOA' : 'H₂⁺  in Fixed-Nuclei approximation')", "encode": {"labels": {"update": {"fill": {"signal": "datum.value == 'k' ? 'black' : (datum.value == 'd' ? '#ff0000' : '#0000ff')"}}}}}},
     "strokeDash": {"field": "s", "type": "nominal", "scale": {"domain": ["k","d","f"], "range": [[1,0],[12,5,3,5],[12,7]]},
      "legend": {"title": null, "orient": "none", "legendX": 208, "legendY": 4, "strokeColor": "#333333", "fillColor": "white", "padding": 6, "symbolType": "stroke", "symbolSize": 1400, "symbolStrokeWidth": 3, "labelFontSize": 16, "labelFontWeight": "normal", "labelLimit": 400, "rowPadding": 3, "labelOffset": 8, "labelExpr": "datum.value == 'k' ? 'H₂⁺ in NBOA' : (datum.value == 'd' ? 'D₂⁺ in NBOA' : 'H₂⁺  in Fixed-Nuclei approximation')", "encode": {"labels": {"update": {"fill": {"signal": "datum.value == 'k' ? 'black' : (datum.value == 'd' ? '#ff0000' : '#0000ff')"}}}}}},
     "strokeWidth": {"field": "s", "type": "nominal", "scale": {"domain": ["k","d","f"], "range": [1.6,3,3]}, "legend": null}
    }
   },
   {
    "data": {"values": [{"h": 20.4, "v": -6.8, "t": "(b)"}]},
    "mark": {"type": "text", "fontSize": 23, "fontWeight": "bold", "font": "Liberation Sans"},
    "encoding": {
     "x": {"field": "h", "type": "quantitative", "scale": {"domain": [20,30], "nice": false, "zero": false}, "axis": {"orient": "top", "labels": false, "title": null, "values": [20,22,24,26,28,30], "tickSize": -5}},
     "y": {"field": "v", "type": "quantitative", "scale": {"domain": [-17.5,-6], "nice": false, "zero": false}, "axis": {"orient": "right", "labels": false, "title": null, "values": [-17,-16,-15,-14,-13,-12,-11,-10,-9,-8,-7,-6], "tickSize": -5}},
     "text": {"field": "t"}
    }
   }
  ],
  "resolve": {"axis": {"x": "independent", "y": "independent"}}
 }
],
"resolve": {"scale": {"color": "independent", "strokeDash": "independent", "strokeWidth": "independent"}, "legend": {"color": "independent", "strokeDash": "independent"}}
}
